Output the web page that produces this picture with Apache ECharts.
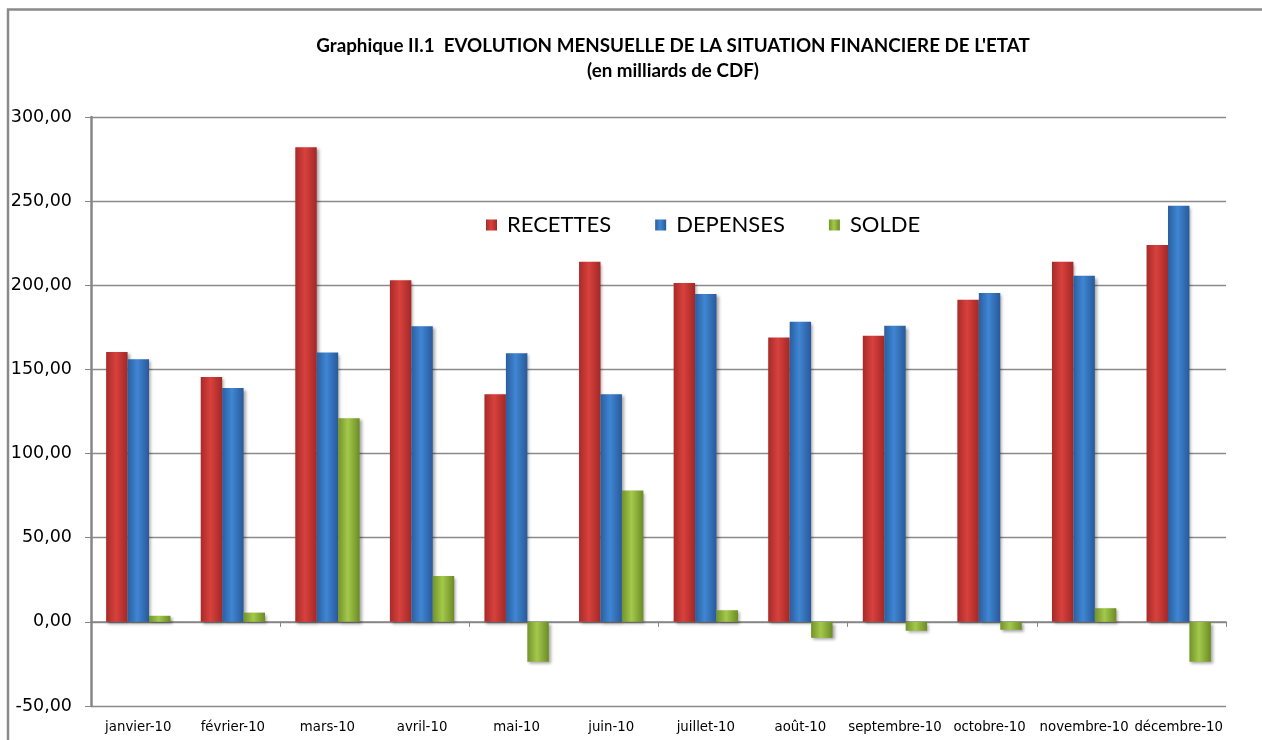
<!DOCTYPE html>
<html>
<head>
<meta charset="utf-8">
<script src="https://cdn.jsdelivr.net/npm/echarts@6/dist/echarts.min.js"></script>
<style>
html,body{margin:0;padding:0;background:#fff;}
#chart{width:1262px;height:740px;}
</style>
</head>
<body>
<div id="chart"></div>
<script>
const categories = ['janvier-10','février-10','mars-10','avril-10','mai-10','juin-10','juillet-10','août-10','septembre-10','octobre-10','novembre-10','décembre-10'];
const recettes = [160.3, 145.5, 282.0, 203.0, 135.3, 214.0, 201.3, 168.9, 170.0, 191.4, 214.0, 224.0];
const depenses = [156.0, 139.0, 160.0, 175.6, 159.6, 135.3, 194.8, 178.3, 176.0, 195.4, 205.6, 247.3];
const solde = [3.6, 5.5, 121.0, 27.3, -23.7, 78.0, 6.9, -9.5, -5.3, -4.7, 8.1, -23.7];
const yTicks = { min: -50, max: 300, interval: 50 };

function grad(c1, c2, c3) {
  return new echarts.graphic.LinearGradient(0, 0, 1, 0, [
    { offset: 0, color: c1 }, { offset: 0.45, color: c2 }, { offset: 1, color: c3 }
  ]);
}
const shadow = { shadowBlur: 3, shadowColor: 'rgba(0,0,0,0.35)', shadowOffsetX: 2, shadowOffsetY: 2 };

const chart = echarts.init(document.getElementById('chart'), null, { renderer: 'canvas' });
chart.setOption({
  animation: false,
  backgroundColor: '#ffffff',
  title: {
    text: "Graphique II.1  EVOLUTION MENSUELLE DE LA SITUATION FINANCIERE DE L'ETAT\n(en milliards de CDF)",
    left: 668, top: 28, textAlign: 'center',
    textStyle: { fontFamily: 'Lato', fontWeight: 'bold', fontSize: 18.8, lineHeight: 25, color: '#000' }
  },
  graphic: [{
    type: 'polyline', silent: true,
    shape: { points: [[8, 740], [8, 9.5], [1262, 9.5]] },
    style: { fill: null, stroke: '#8a8a8a', lineWidth: 2.5 }
  }],
  legend: {
    left: 481, top: 209,
    itemWidth: 11, itemHeight: 11, itemGap: 44,
    icon: 'rect',
    textStyle: { fontFamily: 'Lato', fontSize: 22, color: '#000', padding: [0, 0, 0, 5] },
    data: ['RECETTES', 'DEPENSES', 'SOLDE']
  },
  grid: { left: 91, right: 36, top: 117, bottom: 34, containLabel: false },
  xAxis: [{
    type: 'category', data: categories, position: 'bottom',
    axisLine: { onZero: true, lineStyle: { color: '#868686', width: 1.5 } },
    axisTick: { show: true, length: 5, lineStyle: { color: '#868686' } },
    axisLabel: { show: false }
  }, {
    type: 'category', data: categories, position: 'bottom',
    axisLine: { show: false }, axisTick: { show: false },
    axisLabel: { show: true, margin: 15, fontFamily: 'DejaVu Sans', fontSize: 13.3, color: '#000', interval: 0 }
  }],
  yAxis: {
    type: 'value', min: yTicks.min, max: yTicks.max, interval: yTicks.interval,
    axisLine: { show: true, lineStyle: { color: '#868686', width: 2.5 } },
    axisTick: { show: true, length: 6, inside: false, lineStyle: { color: '#868686' } },
    splitLine: { show: true, lineStyle: { color: '#8a8a8a', width: 1.3 } },
    axisLabel: {
      margin: 19, fontFamily: 'DejaVu Sans', fontSize: 17.5, color: '#000',
      formatter: v => v.toFixed(2).replace('.', ',')
    }
  },
  series: [{
    name: 'RECETTES', type: 'bar', data: recettes, xAxisIndex: 0,
    barGap: '0%', barCategoryGap: '32%',
    itemStyle: Object.assign({ color: grad('#a82a28', '#d8413d', '#a32826') }, shadow)
  }, {
    name: 'DEPENSES', type: 'bar', data: depenses, xAxisIndex: 0,
    barGap: '0%', barCategoryGap: '32%',
    itemStyle: Object.assign({ color: grad('#2a5e9f', '#3f86d3', '#29599a') }, shadow)
  }, {
    name: 'SOLDE', type: 'bar', data: solde, xAxisIndex: 0,
    barGap: '0%', barCategoryGap: '32%',
    itemStyle: Object.assign({ color: grad('#73932a', '#a3c94b', '#6c8b25') }, shadow)
  }]
});
</script>
</body>
</html>
